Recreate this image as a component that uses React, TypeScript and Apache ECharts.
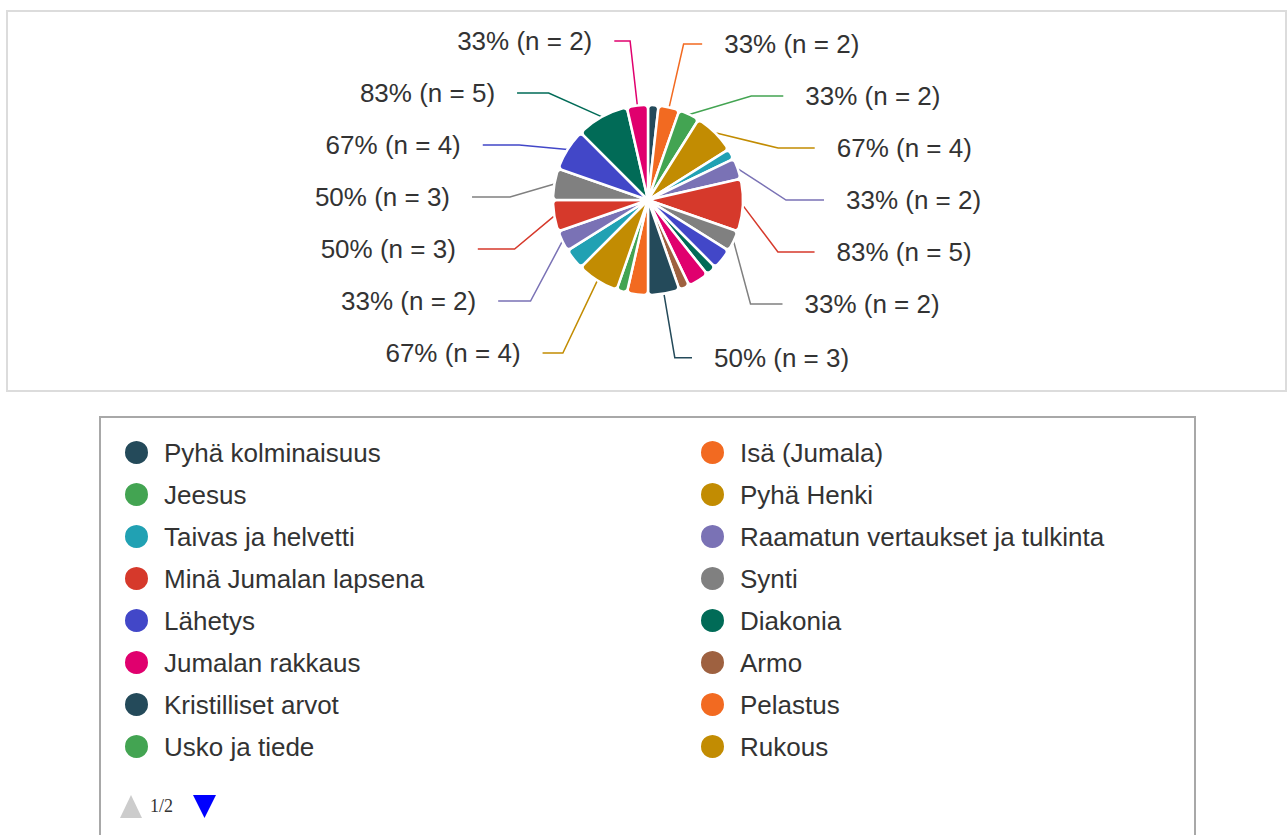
import React, { useEffect, useRef } from "react";
import * as echarts from "echarts";

const categories = [
  "Pyhä kolminaisuus", "Isä (Jumala)", "Jeesus", "Pyhä Henki", "Taivas ja helvetti",
  "Raamatun vertaukset ja tulkinta", "Minä Jumalan lapsena", "Synti", "Lähetys", "Diakonia",
  "Jumalan rakkaus", "Armo", "Kristilliset arvot", "Pelastus", "Usko ja tiede", "Rukous",
  "Raamatun kertomukset", "Raamatun henkilöt", "Kirkkovuosi", "Jumalanpalvelus",
  "Lähimmäisenrakkaus", "Ekologisuus", "Rippikoulu",
];
const counts = [1, 2, 2, 4, 1, 2, 5, 2, 2, 1, 2, 1, 3, 2, 1, 4, 2, 2, 3, 3, 4, 5, 2];
const labelShown = [
  false, true, true, true, false, true, true, true, false, false, false, false, true,
  false, false, true, false, true, true, true, true, true, true,
];
const respondents = 6;
const palette = [
  "#244a5a", "#f26a21", "#43a452", "#c28c02", "#21a1b3", "#7a72b5",
  "#d6392b", "#808080", "#4247c8", "#016b57", "#e0006e", "#9e6140",
];
const legendPage1Col1 = categories.slice(0, 16).filter((_, i) => i % 2 === 0);
const legendPage1Col2 = categories.slice(0, 16).filter((_, i) => i % 2 === 1);

const CX = 648;
const CY = 200;
const BULGE = 25;
const BULGE_R = 160;

export default function App() {
  const ref = useRef<HTMLDivElement>(null);
  useEffect(() => {
    if (!ref.current) return;
    const chart = echarts.init(ref.current, null, { renderer: "svg" });
    const font = "'Liberation Sans', Arial, sans-serif";
    const legendCommon = {
      orient: "vertical" as const,
      top: 440,
      padding: 0,
      itemWidth: 25,
      itemHeight: 25,
      itemGap: 15,
      icon: "circle",
      selectedMode: false,
      textStyle: { fontSize: 26, color: "#333", fontFamily: font, padding: [0, 0, 0, 10] },
    };
    chart.setOption({
      animation: false,
      color: palette,
      graphic: [
        { type: "rect", shape: { x: 7, y: 11, width: 1279, height: 380 }, style: { fill: "none", stroke: "#dcdcdc", lineWidth: 2 } },
        { type: "rect", shape: { x: 100, y: 417, width: 1095, height: 440 }, style: { fill: "#fff", stroke: "#a8a8a8", lineWidth: 2 }, z: -1 },
        { type: "polygon", shape: { points: [[131, 795], [120, 818], [142, 818]] }, style: { fill: "#cccccc" } },
        { type: "text", x: 150, y: 797, style: { text: "1/2", fontSize: 18, fontFamily: "'Liberation Serif', serif", fill: "#333" } },
        { type: "polygon", shape: { points: [[193, 795], [216, 795], [204.5, 818]] }, style: { fill: "#0000ff" } },
      ],
      legend: [
        { ...legendCommon, left: 123, top: 439, data: legendPage1Col1 },
        { ...legendCommon, left: 699, top: 439, data: legendPage1Col2 },
      ],
      series: [
        {
          type: "pie",
          center: [CX, CY],
          radius: [0, 95],
          startAngle: 90,
          clockwise: true,
          avoidLabelOverlap: true,
          itemStyle: { borderColor: "#fff", borderWidth: 2.5, borderRadius: 4 },
          label: {
            fontSize: 26,
            fontFamily: font,
            color: "#333",
            lineHeight: 50,
            distanceToLabelLine: 22,
          },
          labelLine: { length: 65, length2: 13, lineStyle: { width: 1.5 } },
          labelLayout: (p: any) => {
            const pts = p.labelLinePoints;
            if (!pts || !p.labelRect) return {};
            const dir = p.align === "right" ? -1 : 1;
            const dy = p.labelRect.y + p.labelRect.height / 2 - CY;
            const t = Math.max(0, 1 - (dy / BULGE_R) * (dy / BULGE_R));
            const extra = BULGE * Math.sqrt(t);
            return {
              dx: dir * extra,
              labelLinePoints: [pts[0], pts[1], [pts[2][0] + dir * extra, pts[2][1]]],
            };
          },
          data: categories.map((name, i) => ({
            name,
            value: counts[i],
            label: {
              show: labelShown[i],
              formatter: `${Math.round((counts[i] / respondents) * 100)}% (n = ${counts[i]})`,
            },
            labelLine: { show: labelShown[i] },
          })),
        },
      ],
    });
    return () => chart.dispose();
  }, []);
  return <div ref={ref} style={{ position: "absolute", left: 0, top: 0, width: 1287, height: 835 }} />;
}
